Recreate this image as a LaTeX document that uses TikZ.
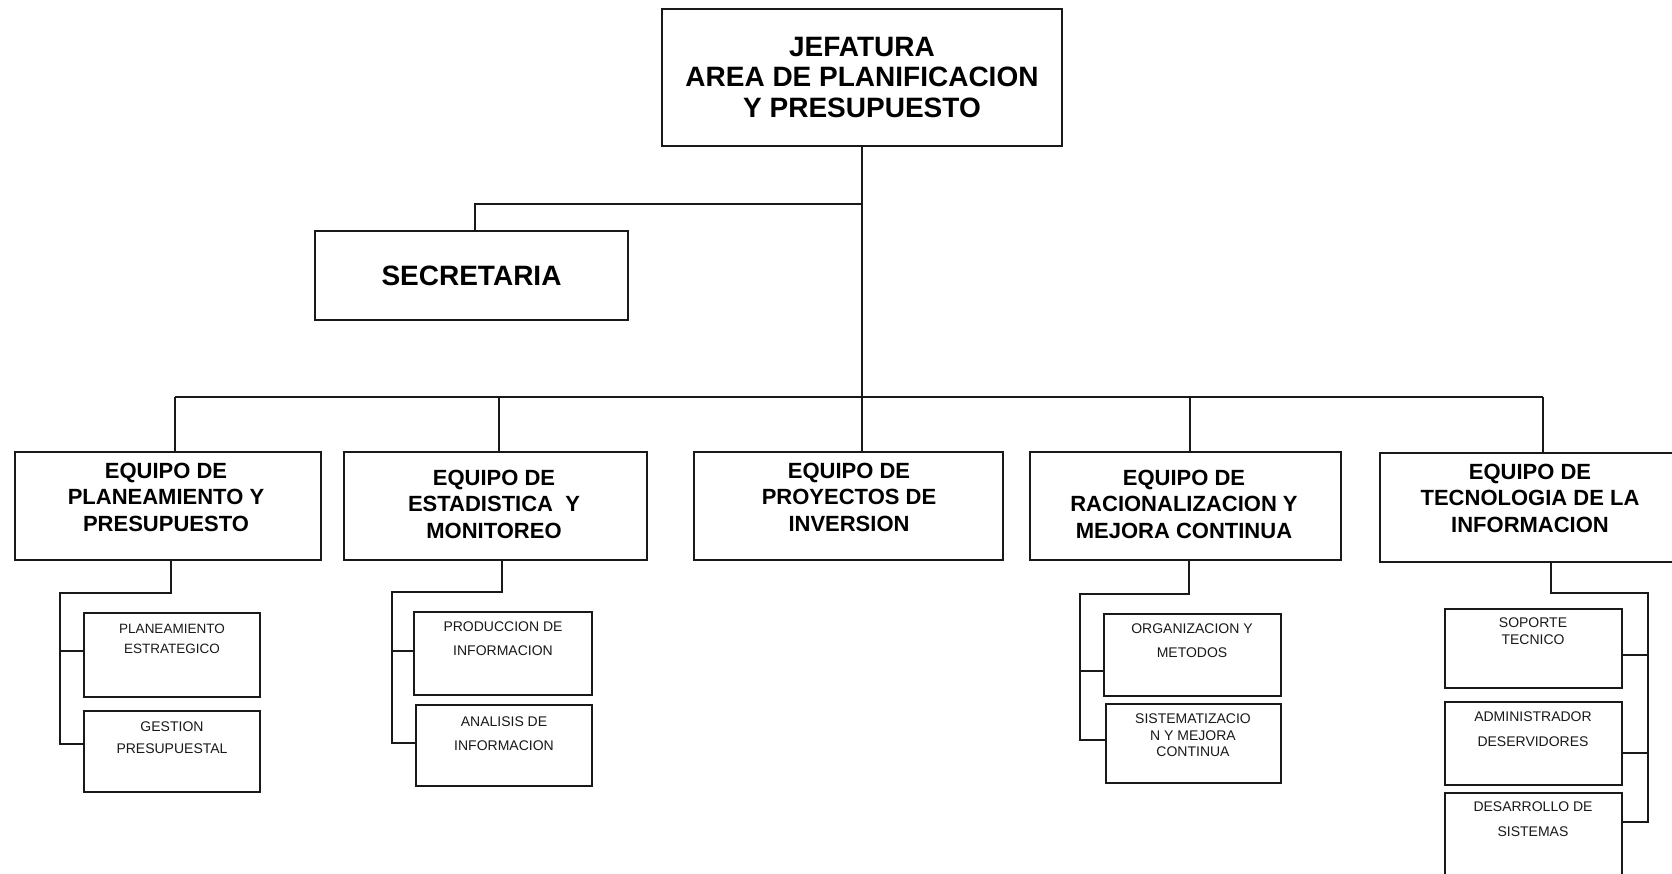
\documentclass[tikz,border=0pt]{standalone}
\usepackage{fontspec}
\setmainfont{Liberation Sans}
\begin{document}
\begin{tikzpicture}[x=1pt,y=-1pt,
  line width=2.1pt,
  box/.style={draw=black!90, line width=2.1pt, inner sep=0pt, rectangle},
  conn/.style={draw=black!90, line width=2.1pt},
  t0/.style={font=\bfseries\fontsize{28}{30.5}\selectfont, align=center, inner sep=0pt},
  t2/.style={font=\bfseries\fontsize{22}{26.5}\selectfont, align=center, inner sep=0pt},
  t3/.style={font=\fontsize{14}{22}\selectfont, align=center, inner sep=0pt, text=black!90}]
\useasboundingbox (0,0) rectangle (1672,873);
\clip (0,0) rectangle (1672,873);
\fill[white] (0,0) rectangle (1672,873);

% top
\node[box, minimum width=400pt, minimum height=137pt, t0] (top) at (862,77.5)
  {JEFATURA\\AREA DE PLANIFICACION\\Y PRESUPUESTO};
% secretaria
\node[box, minimum width=313pt, minimum height=89pt, font=\bfseries\fontsize{28}{30}\selectfont] (sec) at (471.5,275.5) {SECRETARIA};

% level 2 boxes
\node[box, minimum width=306pt, minimum height=108pt] (b1) at (168,506) {};
\node[box, minimum width=303pt, minimum height=108pt] (b2) at (495.5,506) {};
\node[box, minimum width=309pt, minimum height=108pt] (b3) at (848.5,506) {};
\node[box, minimum width=311pt, minimum height=108pt] (b4) at (1185.5,506) {};
\node[box, minimum width=310pt, minimum height=109pt] (b5) at (1535,507.5) {};
\node[t2] (b1t) at (166,497) {EQUIPO DE\\PLANEAMIENTO Y\\PRESUPUESTO};
\node[t2] (b2t) at (494,504) {EQUIPO DE\\ESTADISTICA\ \ Y\\MONITOREO};
\node[t2] (b3t) at (849,497) {EQUIPO DE\\PROYECTOS DE\\INVERSION};
\node[t2] (b4t) at (1184,504) {EQUIPO DE\\RACIONALIZACION Y\\MEJORA CONTINUA};
\node[t2] (b5t) at (1530,498) {EQUIPO DE\\TECNOLOGIA DE LA\\INFORMACION};

% level 3 boxes group 1
\node[box, minimum width=176pt, minimum height=84pt] (pa) at (172,655) {};
\node[box, minimum width=176pt, minimum height=81pt] (pb) at (172,751.5) {};
\node[t3, font=\fontsize{13.5}{20}\selectfont] (pat) at (172,639) {PLANEAMIENTO\\ESTRATEGICO};
\node[t3] (pbt) at (172,738) {GESTION\\PRESUPUESTAL};
% group 2
\node[box, minimum width=178pt, minimum height=83pt] (ea) at (503,653.5) {};
\node[box, minimum width=176pt, minimum height=81pt] (eb) at (504,745.5) {};
\node[t3, font=\fontsize{14}{24}\selectfont] (eat) at (503,639) {PRODUCCION DE\\INFORMACION};
\node[t3, font=\fontsize{14}{24}\selectfont] (ebt) at (504,734) {ANALISIS DE\\INFORMACION};
% group 3
\node[box, minimum width=177pt, minimum height=82pt] (oa) at (1192.5,655) {};
\node[box, minimum width=175pt, minimum height=79pt] (ob) at (1193.5,743.5) {};
\node[t3, font=\fontsize{14}{24}\selectfont] (oat) at (1192,641) {ORGANIZACION Y\\METODOS};
\node[t3, font=\fontsize{14}{16.5}\selectfont] (obt) at (1193,735.5) {SISTEMATIZACIO\\N Y MEJORA\\CONTINUA};
% group 4
\node[box, minimum width=177pt, minimum height=79pt] (ta) at (1533.5,648.5) {};
\node[box, minimum width=177pt, minimum height=83pt] (tb) at (1533.5,743.5) {};
\node[box, minimum width=177pt, minimum height=87pt] (tc) at (1533.5,836.5) {};
\node[t3, font=\fontsize{14}{17}\selectfont] (tat) at (1533,631.5) {SOPORTE\\TECNICO};
\node[t3, font=\fontsize{14}{25}\selectfont] (tbt) at (1533,729.5) {ADMINISTRADOR\\DESERVIDORES};
\node[t3, font=\fontsize{14}{25}\selectfont] (tct) at (1533,819.5) {DESARROLLO DE\\SISTEMAS};

% connectors top level
\coordinate (sj) at (862,204);
\coordinate (d1) at (175,397);
\coordinate (d2) at (499,397);
\coordinate (d3) at (862,397);
\coordinate (d4) at (1190,397);
\coordinate (d5) at (1543,397);
\draw[conn] (top.south) -- (d3 |- b3.north);
\draw[conn] (sj) -| ([xshift=3.5pt]sec.north);
\draw[conn] (d1) -- (d5);
\draw[conn] (d1) -- (d1 |- b1.north);
\draw[conn] (d2) -- (d2 |- b2.north);
\draw[conn] (d4) -- (d4 |- b4.north);
\draw[conn] (d5) -- (d5 |- b5.north);

% branch entry points
\coordinate (pain) at ([yshift=4pt]pa.west);
\coordinate (pbin) at ([yshift=7.5pt]pb.west);
\coordinate (eain) at ([yshift=2.5pt]ea.west);
\coordinate (ebin) at ([yshift=2.5pt]eb.west);
\coordinate (oain) at ([yshift=-16pt]oa.west);
\coordinate (obin) at ([yshift=3.5pt]ob.west);
\coordinate (tain) at ([yshift=-6.5pt]ta.east);
\coordinate (tbin) at ([yshift=-9.5pt]tb.east);
\coordinate (tcin) at ([yshift=14.5pt]tc.east);

% group 1 connectors
\coordinate (g1) at (60,593);
\draw[conn] ([xshift=3pt]b1.south) |- (g1) |- (pbin);
\draw[conn] (g1 |- pain) -- (pain);
% group 2
\coordinate (g2) at (392,592);
\draw[conn] ([xshift=6.5pt]b2.south) |- (g2) |- (ebin);
\draw[conn] (g2 |- eain) -- (eain);
% group 3
\coordinate (g3) at (1080,594);
\draw[conn] ([xshift=3.5pt]b4.south) |- (g3) |- (obin);
\draw[conn] (g3 |- oain) -- (oain);
% group 4
\coordinate (g4) at (1648,593);
\draw[conn] ([xshift=16pt]b5.south) |- (g4) |- (tcin);
\draw[conn] (g4 |- tain) -- (tain);
\draw[conn] (g4 |- tbin) -- (tbin);
\end{tikzpicture}
\end{document}
